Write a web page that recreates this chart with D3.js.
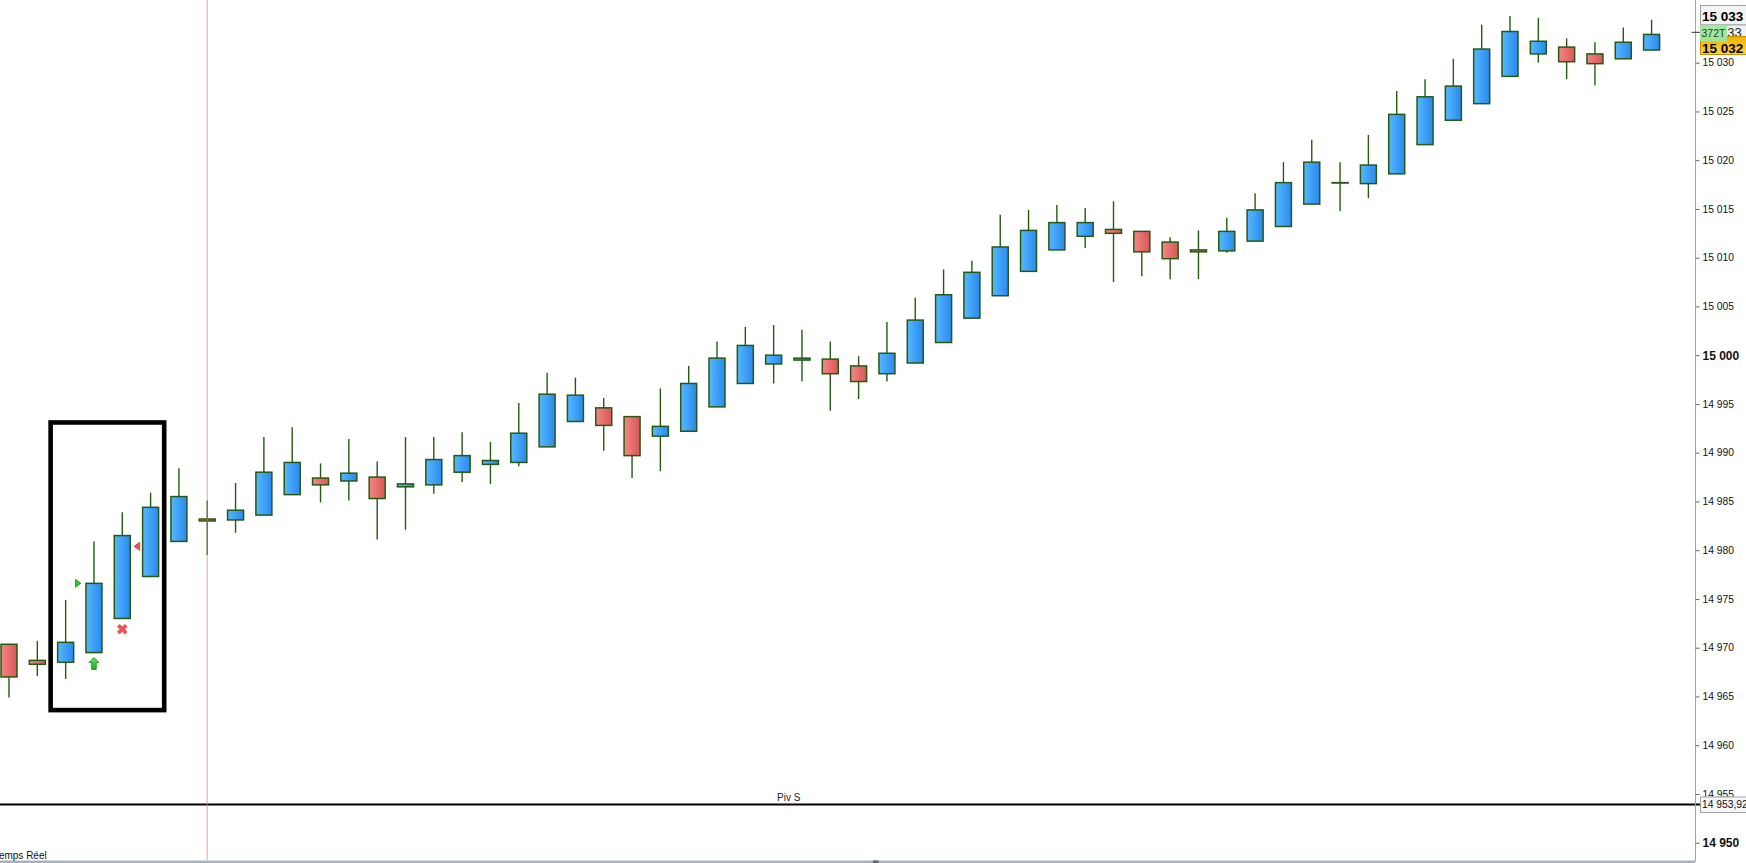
<!DOCTYPE html>
<html><head><meta charset="utf-8">
<script src="https://cdn.jsdelivr.net/npm/d3@7"></script>
<style>html,body{margin:0;padding:0;background:#fff;overflow:hidden}</style>
</head><body>
<svg id="c" width="1746" height="863"></svg>
<script>
// ---- data ----
const opens  = [14970.35,14968.7,14968.5,14969.5,14973.0,14977.3,14980.9,14983.2,14983.1,14983.6,14985.7,14987.4,14987.1,14987.5,14986.5,14986.7,14988.0,14988.8,14989.0,14990.6,14993.2,14994.6,14993.7,14991.7,14992.2,14994.7,14997.1,14999.1,14999.5,14999.6,14998.9,14998.1,14999.2,15001.3,15003.8,15006.1,15008.6,15010.8,15012.2,15012.9,15012.7,15011.6,15010.8,15010.7,15011.7,15013.2,15015.5,15017.7,15017.6,15018.6,15021.6,15024.1,15025.8,15028.6,15030.9,15031.6,15030.9,15030.4,15031.3];
const highs  = [14970.35,14970.7,14974.9,14980.9,14983.9,14985.9,14988.4,14985.1,14986.9,14991.6,14992.6,14988.9,14991.4,14989.1,14991.6,14991.6,14992.1,14991.1,14995.1,14998.2,14997.7,14995.6,14993.7,14996.6,14998.9,15001.4,15002.9,15003.1,15002.6,15001.4,14999.9,15003.4,15005.9,15008.8,15009.7,15014.4,15014.9,15015.4,15015.1,15015.8,15012.7,15012.1,15012.8,15014.1,15016.6,15019.8,15022.1,15019.8,15022.6,15027.1,15028.3,15030.4,15033.9,15034.8,15034.6,15032.5,15032.1,15033.6,15034.4];
const lows   = [14964.9,14967.1,14966.8,14969.5,14973.0,14977.3,14980.9,14979.5,14981.8,14983.6,14985.7,14984.9,14985.1,14981.1,14982.1,14985.8,14987.0,14986.8,14988.6,14990.6,14993.2,14990.2,14987.4,14988.1,14992.2,14994.7,14997.1,14997.1,14997.3,14994.3,14995.5,14997.3,14999.2,15001.3,15003.8,15006.1,15008.6,15010.8,15011.0,15007.5,15008.1,15007.8,15007.8,15010.5,15011.7,15013.2,15015.5,15014.8,15016.1,15018.6,15021.6,15024.1,15025.8,15028.6,15030.0,15028.3,15027.7,15030.4,15031.3];
const closes = [14967.0,14968.3,14970.55,14976.6,14981.5,14984.4,14985.5,14983.0,14984.1,14988.0,14989.0,14986.7,14987.9,14985.3,14986.8,14989.3,14989.7,14989.2,14992.0,14996.0,14995.9,14992.8,14989.7,14992.7,14997.1,14999.7,15001.0,15000.0,14999.7,14998.1,14997.3,15000.2,15003.6,15006.2,15008.5,15011.1,15012.8,15013.6,15013.6,15012.5,15010.6,15009.9,15010.6,15012.7,15014.9,15017.7,15019.8,15017.7,15019.5,15024.7,15026.5,15027.6,15031.4,15033.2,15032.2,15030.1,15029.9,15032.1,15032.9];
const tickValues = d3.range(14950, 15031, 5);
const pivotValue = 14953.92;
const pivotLabel = "Piv S";
const pivotText = "14 953,92";
const topLabels = ["15 033", "15 033", "372T", "15 032"];
const cursorIndex = 7;
const boxIdx = [1.47, 5.48];
const boxPrices = [14993.1, 14963.6];
const footerText = "Temps Réel";

// ---- scales ----
const W = 1746, H = 863, axisX = 1695.5;
const x = d3.scaleLinear().domain([0, 58]).range([9, 1651.6]);
const y = d3.scaleLinear().domain([14950, 15030]).range([842.7, 62.7]);
const bodyW = 16;
const fmt = v => { const s = String(v); return s.slice(0, s.length-3) + " " + s.slice(-3); };

const svg = d3.select("#c");
const defs = svg.append("defs");
const bg = defs.append("linearGradient").attr("id","blueG").attr("x1","0").attr("x2","1").attr("y1","0").attr("y2","0");
bg.append("stop").attr("offset","0").attr("stop-color","#55b9ff");
bg.append("stop").attr("offset","1").attr("stop-color","#2a88ee");
const rg = defs.append("linearGradient").attr("id","redG").attr("x1","0").attr("x2","1").attr("y1","0").attr("y2","0");
rg.append("stop").attr("offset","0").attr("stop-color","#f88585");
rg.append("stop").attr("offset","1").attr("stop-color","#d65858");
const og = defs.append("linearGradient").attr("id","orG").attr("x1","0").attr("x2","0").attr("y1","0").attr("y2","1");
og.append("stop").attr("offset","0").attr("stop-color","#f2b000");
og.append("stop").attr("offset","1").attr("stop-color","#ffd54a");
const gg = defs.append("linearGradient").attr("id","grG").attr("x1","0").attr("x2","0").attr("y1","0").attr("y2","1");
gg.append("stop").attr("offset","0").attr("stop-color","#66e066");
gg.append("stop").attr("offset","1").attr("stop-color","#22aa22");
defs.append("clipPath").attr("id","clipB").append("rect").attr("x",1727).attr("y",20).attr("width",30).attr("height",30);

svg.append("rect").attr("width", W).attr("height", H).attr("fill", "#fff");

// bottom strip
svg.append("rect").attr("x", 0).attr("y", 860.5).attr("width", axisX).attr("height", 2.5).attr("fill", "#a9b1bf");
svg.append("rect").attr("x", 873).attr("y", 860.5).attr("width", 5.5).attr("height", 2.5).attr("fill", "#606468");

// pivot line
svg.append("line").attr("x1", 0).attr("x2", 1700).attr("y1", y(pivotValue)).attr("y2", y(pivotValue))
  .attr("stroke", "#000").attr("stroke-width", 2);
svg.append("text").attr("x", 777).attr("y", y(pivotValue) - 3.5).attr("font-family", "Liberation Sans, Arial, sans-serif")
  .attr("font-size", 10).attr("fill", "#222").text(pivotLabel);

// candles
const data = opens.map((o, i) => ({i, o, h: highs[i], l: lows[i], c: closes[i]}));
const g = svg.append("g");
g.selectAll("line.wick").data(data).join("line").attr("class","wick")
  .attr("x1", d => x(d.i)).attr("x2", d => x(d.i))
  .attr("y1", d => y(d.h)).attr("y2", d => y(d.l))
  .attr("stroke", "#265a12").attr("stroke-width", 1.4);
g.selectAll("rect.body").data(data).join("rect").attr("class","body")
  .attr("x", d => x(d.i) - bodyW/2).attr("width", bodyW)
  .attr("y", d => y(Math.max(d.o, d.c)))
  .attr("height", d => Math.max(0.4, Math.abs(y(d.o) - y(d.c))))
  .attr("fill", d => d.c < d.o ? "url(#redG)" : "url(#blueG)")
  .attr("stroke", "#265a12").attr("stroke-width", 1.5);

// cursor line
svg.append("line").attr("x1", x(cursorIndex)).attr("x2", x(cursorIndex)).attr("y1", 0).attr("y2", 860)
  .attr("stroke", "#ff7070").attr("stroke-opacity", 0.7).attr("stroke-width", 1);

// annotation box
svg.append("rect").attr("x", x(boxIdx[0])).attr("y", y(boxPrices[0]))
  .attr("width", x(boxIdx[1]) - x(boxIdx[0])).attr("height", y(boxPrices[1]) - y(boxPrices[0]))
  .attr("fill", "none").attr("stroke", "#000").attr("stroke-width", 4.6);

// markers
svg.append("path").attr("transform", `translate(${x(3) - 16},${y(14976.6)})`)
  .attr("d", "M-2.5,-4L3,0L-2.5,4Z").attr("fill", "#33c233").attr("stroke", "#119911").attr("stroke-width", 0.8);
svg.append("path").attr("transform", `translate(${x(5) - 13.5},${y(14980.4)})`)
  .attr("d", "M2.5,-4L-3,0L2.5,4Z").attr("fill", "#ee5555").attr("stroke", "#cc3333").attr("stroke-width", 0.8);
svg.append("path").attr("transform", `translate(${x(3)},${y(14969.0)})`)
  .attr("d", "M0,0L5,5L2.3,5L2.3,12L-2.3,12L-2.3,5L-5,5Z").attr("fill", "url(#grG)").attr("stroke", "#1f9a1f").attr("stroke-width", 0.9);
svg.append("path").attr("transform", `translate(${x(4)},${y(14971.9)}) rotate(45)`)
  .attr("d", d3.symbol(d3.symbolCross, 70)()).attr("fill", "#e85555");

// right axis
svg.append("line").attr("x1", axisX).attr("x2", axisX).attr("y1", 0).attr("y2", 861)
  .attr("stroke", "#9ea4ac").attr("stroke-width", 1);
const ax = svg.append("g").attr("transform", `translate(${axisX},0)`)
  .call(d3.axisRight(y).tickValues(tickValues).tickSize(4).tickPadding(3).tickFormat(fmt));
ax.select(".domain").remove();
ax.selectAll(".tick line").attr("stroke", "#666");
ax.selectAll(".tick text").attr("font-family", "Liberation Sans, Arial, sans-serif")
  .attr("fill", "#111")
  .attr("font-size", d => d % 50 === 0 ? 12 : 10.3)
  .attr("font-weight", d => d % 50 === 0 ? "bold" : "normal");

// pivot price label
svg.append("rect").attr("x", 1700.5).attr("y", y(pivotValue) - 7.5).attr("width", 50).attr("height", 15.5)
  .attr("fill", "#f6f6f6").attr("stroke", "#a0a4aa");
svg.append("text").attr("x", 1702).attr("y", y(pivotValue) + 4).attr("font-family", "Liberation Sans, Arial, sans-serif")
  .attr("font-size", 10.3).attr("fill", "#111").text(pivotText);

// top labels
svg.append("rect").attr("x", 1700.5).attr("y", 5.5).attr("width", 50).attr("height", 19.5).attr("fill", "#f3f3f3").attr("stroke", "#a0a4aa");
svg.append("text").attr("x", 1702).attr("y", 20.8).attr("font-family", "Liberation Sans, Arial, sans-serif")
  .attr("font-size", 13.5).attr("font-weight", "bold").attr("fill", "#000").text(topLabels[0]);
svg.append("line").attr("x1", 1691.5).attr("x2", 1700).attr("y1", 32.3).attr("y2", 32.3).attr("stroke", "#333");
svg.append("rect").attr("x", 1700.5).attr("y", 25).attr("width", 50).attr("height", 14).attr("fill", "#f3f3f3").attr("stroke", "#a0a4aa");
svg.append("text").attr("x", 1702).attr("y", 36.5).attr("clip-path", "url(#clipB)").attr("font-family", "Liberation Sans, Arial, sans-serif")
  .attr("font-size", 13).attr("fill", "#222").text(topLabels[1]);
svg.append("rect").attr("x", 1700.5).attr("y", 36.5).attr("width", 50).attr("height", 18).attr("fill", "url(#orG)").attr("stroke", "#c89000");
svg.append("text").attr("x", 1702).attr("y", 52.8).attr("font-family", "Liberation Sans, Arial, sans-serif")
  .attr("font-size", 13.5).attr("font-weight", "bold").attr("fill", "#000").text(topLabels[3]);
svg.append("rect").attr("x", 1700).attr("y", 25).attr("width", 27).attr("height", 16.5).attr("fill", "#9be89b").attr("opacity", 0.95);
svg.append("text").attr("x", 1701.5).attr("y", 37).attr("font-family", "Liberation Sans, Arial, sans-serif")
  .attr("font-size", 10.5).attr("fill", "#333").text(topLabels[2]);

// footer
svg.append("text").attr("x", -6.1).attr("y", 859).attr("font-family", "Liberation Sans, Arial, sans-serif")
  .attr("font-size", 10).attr("fill", "#111").text(footerText);
</script>
</body></html>
